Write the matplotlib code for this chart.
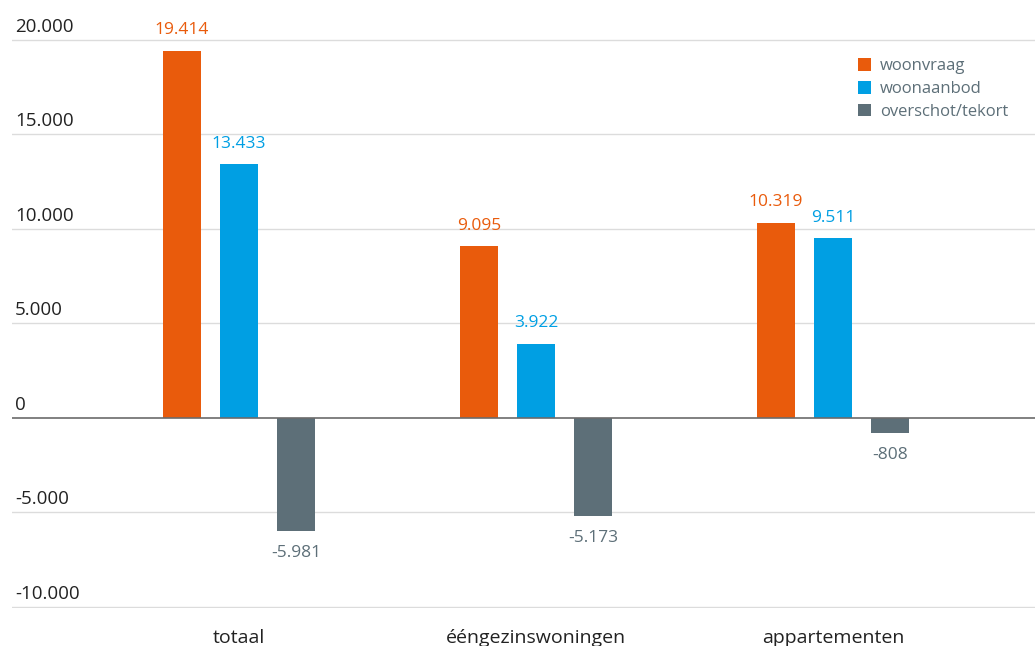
import numpy as np
import matplotlib.pyplot as plt

categories = ["totaal", "ééngezinswoningen", "appartementen"]
series = ["woonvraag", "woonaanbod", "overschot/tekort"]
woonvraag = [19414, 9095, 10319]
woonaanbod = [13433, 3922, 9511]
overschot = [-5981, -5173, -808]
colors = ["#e95b0c", "#009fe3", "#5d6f78"]
yticks = [-10000, -5000, 0, 5000, 10000, 15000, 20000]

plt.rcParams['font.family'] = ['Open Sans', 'DejaVu Sans']


def fmt(v):
    return f"{v:,}".replace(",", ".")


fig = plt.figure(figsize=(10.35, 6.46), dpi=100)
# axes spans x 12..1035 px, y -10000 at 607 px
ax = fig.add_axes([12 / 1035, 38 / 646, 1023 / 1035, 587 / 646])

x = np.arange(len(categories))
w = 0.128
step = 0.192
for i, (vals, name, c) in enumerate(zip([woonvraag, woonaanbod, overschot], series, colors)):
    pos = x + (i - 1) * step
    ax.bar(pos, vals, width=w, color=c, label=name, zorder=3)
    for p, v in zip(pos, vals):
        if v >= 0:
            ax.annotate(fmt(v), (p, v), xytext=(0, 9), textcoords="offset points",
                        ha="center", va="bottom", color=c, fontsize=12.5)
        else:
            ax.annotate(fmt(v), (p, v), xytext=(0, -10), textcoords="offset points",
                        ha="center", va="top", color=c, fontsize=12.5)

ax.set_xlim(-0.764, 2.68)
ax.set_ylim(-10053, 21000)
for t in yticks:
    if t == 0:
        ax.axhline(0, color="#6b6b6b", lw=1.2, zorder=4)
    else:
        ax.axhline(t, color="#dcdcdc", lw=1, zorder=1)
    ax.annotate(fmt(t), (0.003, t), xycoords=ax.get_yaxis_transform(),
                xytext=(0, 3), textcoords="offset points",
                ha="left", va="bottom", fontsize=13.5, color="#222222")

ax.set_yticks([])
ax.set_xticks(x)
ax.set_xticklabels(categories, fontsize=14, color="#222222")
ax.tick_params(axis="x", length=0, pad=15)
for s in ax.spines.values():
    s.set_visible(False)

leg = ax.legend(loc="upper left", bbox_to_anchor=(843 / 1035, 1 - 43 / 646),
                bbox_transform=fig.transFigure, frameon=False,
                fontsize=12, handlelength=0.8, handleheight=0.8, handletextpad=0.5,
                labelspacing=0.4)
for t in leg.get_texts():
    t.set_color("#5d6f78")

fig.savefig("out.png", dpi=100)
